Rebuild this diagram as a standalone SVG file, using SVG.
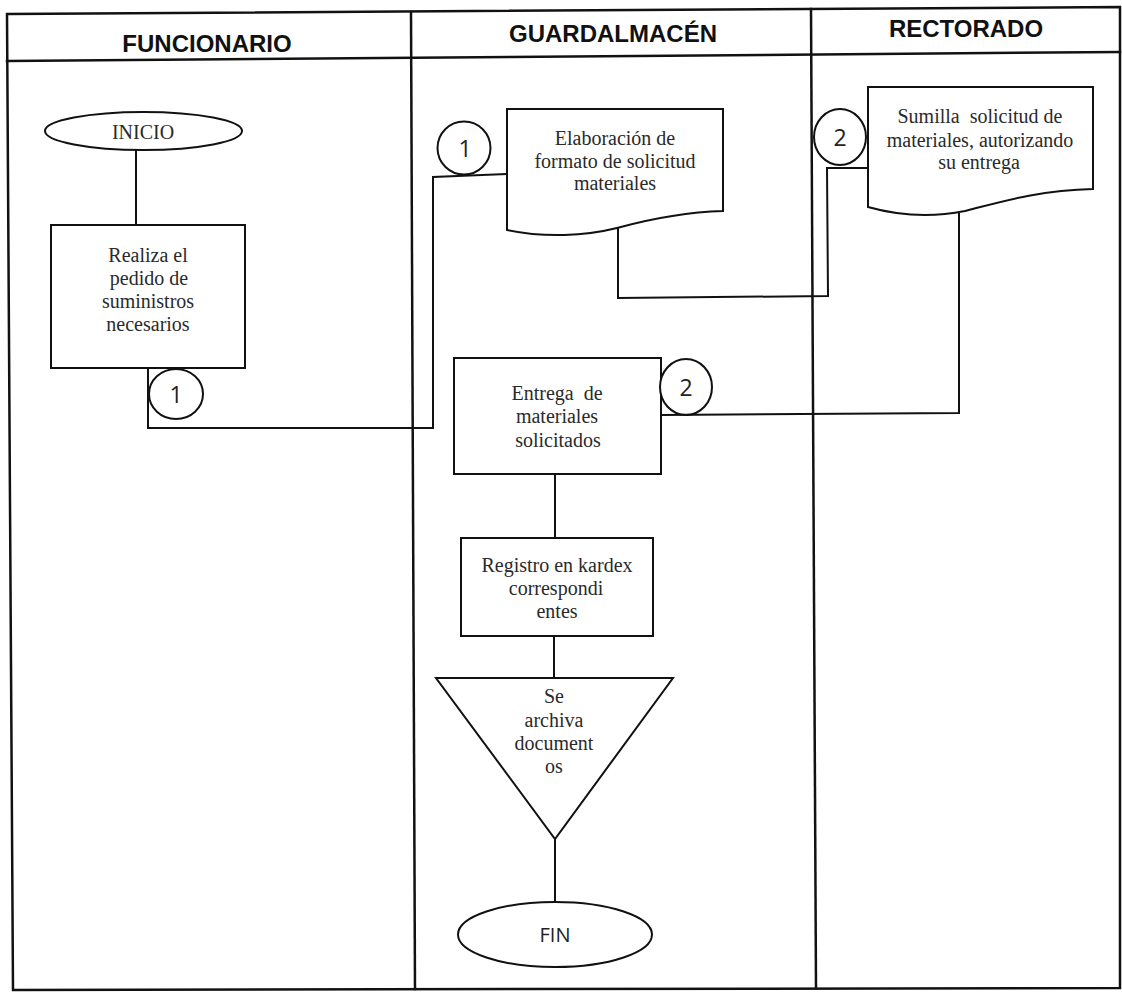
<svg xmlns="http://www.w3.org/2000/svg" width="1122" height="992" viewBox="0 0 1122 992">
  <style>
    .frame { fill: none; stroke: #111; stroke-width: 2.5; stroke-linecap: square; }
    .shape { fill: #fff; stroke: #111; stroke-width: 2; }
    .conn  { fill: none; stroke: #111; stroke-width: 2; stroke-linejoin: miter; }
    .hdr   { font-family: "Liberation Sans", Arial, sans-serif; font-weight: bold; font-size: 24px; fill: #111; text-anchor: middle; }
    .lbl   { font-family: "Liberation Serif", "Times New Roman", serif; font-size: 20px; fill: #2a2a2a; text-anchor: middle; }
    .num   { font-family: "Open Sans", "Noto Sans", sans-serif; font-size: 23px; fill: #222; text-anchor: middle; }
  </style>

  <rect x="0" y="0" width="1122" height="992" fill="#fff"/>

  <!-- swimlane frame: outer border, header row and lane dividers -->
  <g id="lanes">
    <path class="frame" d="M7,14 L1120,7 L1120,988 L13,990 Z"/>
    <line class="frame" x1="7" y1="61" x2="1120" y2="52"/>
    <line class="frame" x1="411" y1="12" x2="415" y2="989"/>
    <line class="frame" x1="811" y1="9" x2="816" y2="988"/>
    <text class="hdr" x="207" y="52">FUNCIONARIO</text>
    <text class="hdr" x="613" y="42">GUARDALMACÉN</text>
    <text class="hdr" x="966" y="37">RECTORADO</text>
  </g>

  <!-- FUNCIONARIO lane -->
  <g id="inicio">
    <ellipse class="shape" cx="143.5" cy="131" rx="98.5" ry="19"/>
    <text class="lbl" x="143" y="139">INICIO</text>
  </g>

  <g id="realiza-pedido">
    <rect class="shape" x="51" y="225" width="194" height="143"/>
    <text class="lbl" x="148" y="262">Realiza el</text>
    <text class="lbl" x="149" y="285">pedido de</text>
    <text class="lbl" x="148" y="308">suministros</text>
    <text class="lbl" x="148" y="331">necesarios</text>
  </g>

  <g id="conector-1-salida">
    <ellipse class="shape" cx="176" cy="394" rx="27" ry="25"/>
    <text class="num" x="176" y="403">1</text>
  </g>

  <!-- GUARDALMACÉN lane -->
  <g id="conector-1-entrada">
    <circle class="shape" cx="464" cy="148" r="26.5"/>
    <text class="num" x="465" y="157">1</text>
  </g>

  <g id="elaboracion-formato">
    <path class="shape" d="M507,109 L723,109 L723,211 C685,212 650,219 617,228 C585,236 545,238 507,230 Z"/>
    <text class="lbl" x="615" y="145">Elaboración de</text>
    <text class="lbl" x="615" y="168">formato de solicitud</text>
    <text class="lbl" x="615" y="190">materiales</text>
  </g>

  <g id="entrega-materiales">
    <rect class="shape" x="454" y="358" width="207" height="116"/>
    <text class="lbl" x="557" y="400" xml:space="preserve">Entrega  de</text>
    <text class="lbl" x="557" y="423">materiales</text>
    <text class="lbl" x="558" y="447">solicitados</text>
  </g>

  <g id="conector-2-entrada">
    <ellipse class="shape" cx="686" cy="387" rx="26" ry="28"/>
    <text class="num" x="686" y="396">2</text>
  </g>

  <g id="registro-kardex">
    <rect class="shape" x="461" y="538" width="192" height="98"/>
    <text class="lbl" x="557" y="572">Registro en kardex</text>
    <text class="lbl" x="556" y="595">correspondi</text>
    <text class="lbl" x="557" y="618">entes</text>
  </g>

  <g id="archivo">
    <path class="shape" d="M436,678 L673,678 L555,839 Z"/>
    <text class="lbl" x="554" y="703">Se</text>
    <text class="lbl" x="554" y="727">archiva</text>
    <text class="lbl" x="554" y="750">document</text>
    <text class="lbl" x="554" y="773">os</text>
  </g>

  <g id="fin">
    <ellipse class="shape" cx="555" cy="934.5" rx="97" ry="32.5"/>
    <text class="num" x="555" y="942" style="font-size:20px">FIN</text>
  </g>

  <!-- RECTORADO lane -->
  <g id="conector-2-salida">
    <ellipse class="shape" cx="840" cy="137" rx="26" ry="28"/>
    <text class="num" x="840" y="146">2</text>
  </g>

  <g id="sumilla-solicitud">
    <path class="shape" d="M868,87 L1093,87 L1093,189 C1040,190 1000,202 965,211 C935,217 900,216 868,207 Z"/>
    <text class="lbl" x="980" y="123" xml:space="preserve">Sumilla  solicitud de</text>
    <text class="lbl" x="980" y="147">materiales, autorizando</text>
    <text class="lbl" x="979" y="169">su entrega</text>
  </g>

  <!-- flow lines -->
  <g id="connectors">
    <line class="conn" x1="136" y1="150" x2="136" y2="225"/>
    <polyline class="conn" points="148,368 148,428 433,428 433,177 507,174"/>
    <polyline class="conn" points="618,228 618,298 828,296 827,168 868,168"/>
    <polyline class="conn" points="959,213 959,413 661,415"/>
    <line class="conn" x1="555" y1="474" x2="555" y2="538"/>
    <line class="conn" x1="554" y1="636" x2="554" y2="678"/>
    <line class="conn" x1="555" y1="839" x2="555" y2="902"/>
  </g>
</svg>
